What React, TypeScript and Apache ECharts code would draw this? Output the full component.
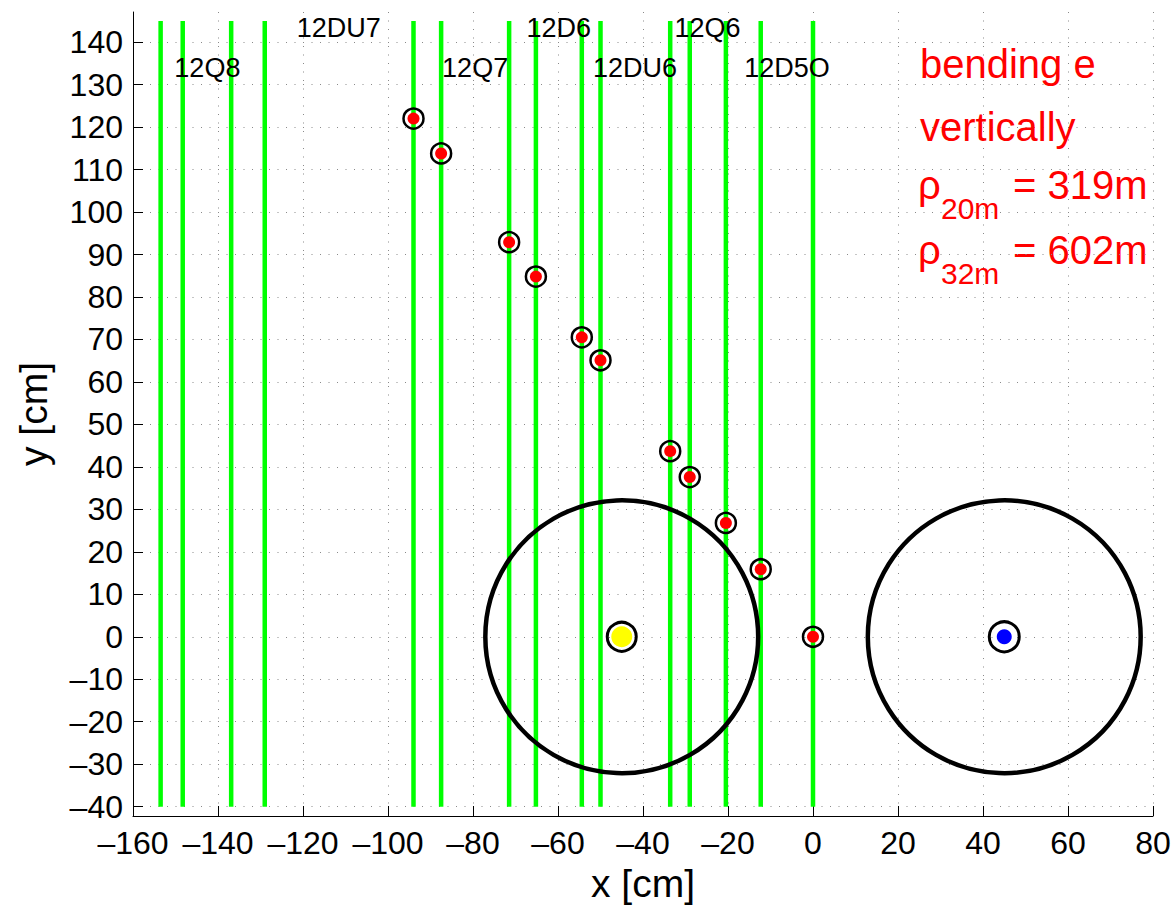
import React, { useEffect, useRef } from "react";
import * as echarts from "echarts";

// ---- data ----
const magnetLineX = [-153.5, -148.3, -136.9, -129.0, -94.0, -87.5, -71.5, -65.2, -54.4, -50.0, -33.6, -29.0, -20.5, -12.3, 0];
const magnetLineYStart = -40;
const magnetLineYEnd = 145;

const magnetNames = ["12Q8", "12DU7", "12Q7", "12D6", "12DU6", "12Q6", "12D5O"];
const magnetLabelX = [-142.5, -111.6, -79.5, -59.8, -41.9, -24.8, -6.1];
const magnetLabelY = [133.8, 143.4, 133.8, 143.4, 133.8, 143.4, 133.8];

const beamX = [-94.0, -87.5, -71.5, -65.2, -54.4, -50.0, -33.6, -29.0, -20.5, -12.3, 0];
const beamY = [122.0, 113.8, 92.9, 84.8, 70.5, 65.1, 43.7, 37.6, 26.8, 15.9, 0];

const apertureCentersX = [-45, 45];
const apertureCentersY = [0, 0];
const apertureRadius = 32.1;

const yellowPoint = [-45, 0];
const bluePoint = [45, 0];

const xTicks = [-160, -140, -120, -100, -80, -60, -40, -20, 0, 20, 40, 60, 80];
const yTicks = [-40, -30, -20, -10, 0, 10, 20, 30, 40, 50, 60, 70, 80, 90, 100, 110, 120, 130, 140];

const noteLines = ["bending e", "vertically"];
const rhoSubs = ["20m", "32m"];
const rhoValues = ["= 319m", "= 602m"];

const FONT = "Liberation Sans, Arial, Helvetica, sans-serif";

const fmt = (v: number) => {
  if (Math.abs(v - Math.round(v / 10) * 10) > 1e-6) return "";
  const r = Math.round(v);
  return r < 0 ? "\u2013" + Math.abs(r) : String(r);
};

export default function App() {
  const ref = useRef<HTMLDivElement>(null);
  useEffect(() => {
    if (!ref.current) return;
    const chart = echarts.init(ref.current, null, { renderer: "svg" });

    const gridLine = { show: true, lineStyle: { color: "#8a8a8a", type: [1, 7.5], width: 1 } };

    const option: any = {
      animation: false,
      backgroundColor: "#ffffff",
      textStyle: { fontFamily: FONT },
      grid: { left: 133, right: 19, top: 12, bottom: 89, containLabel: false, outerBoundsMode: "none" },
      xAxis: {
        type: "value",
        min: xTicks[0],
        max: xTicks[xTicks.length - 1],
        interval: 20,
        name: "x [cm]",
        nameLocation: "middle",
        nameGap: 47,
        nameTextStyle: { fontSize: 39, color: "#000", fontFamily: FONT },
        axisLine: { show: true, onZero: false, lineStyle: { color: "#000", width: 1 } },
        axisTick: { show: true, inside: true, length: 10, lineStyle: { color: "#000" } },
        axisLabel: { fontSize: 32, color: "#000", margin: 11, fontFamily: FONT, formatter: (v: number) => fmt(v) },
        splitLine: gridLine,
      },
      yAxis: {
        type: "value",
        min: -42.2,
        max: 147.1,
        splitNumber: 19,
        name: "y [cm]",
        nameLocation: "middle",
        nameGap: 80,
        nameTextStyle: { fontSize: 39, color: "#000", fontFamily: FONT },
        axisLine: { show: true, onZero: false, lineStyle: { color: "#000", width: 1 } },
        axisTick: { show: true, inside: true, length: 10, lineStyle: { color: "#000" }, customValues: yTicks },
        axisLabel: {
          fontSize: 32,
          color: "#000",
          margin: 10,
          fontFamily: FONT,
          customValues: yTicks,
          showMinLabel: true,
          showMaxLabel: true,
          formatter: (v: number) => fmt(v),
        },
        splitLine: gridLine,
      },
      series: [
        {
          type: "custom",
          name: "magnets",
          z: 1,
          renderItem: (params: any, api: any) => {
            const x = api.value(0);
            const p0 = api.coord([x, api.value(1)]);
            const p1 = api.coord([x, api.value(2)]);
            return {
              type: "line",
              shape: { x1: p0[0], y1: p0[1], x2: p1[0], y2: p1[1] },
              style: { stroke: "#00ff00", lineWidth: 4.5 },
            };
          },
          encode: { x: 0, y: [1, 2] },
          data: magnetLineX.map((x) => [x, magnetLineYStart, magnetLineYEnd]),
        },
        {
          type: "custom",
          name: "apertures",
          z: 2,
          renderItem: (params: any, api: any) => {
            const c = api.coord([api.value(0), api.value(1)]);
            const r = api.size([api.value(2), 0])[0];
            return {
              type: "circle",
              shape: { cx: c[0], cy: c[1], r },
              style: { fill: "none", stroke: "#000", lineWidth: 4.5 },
            };
          },
          encode: { x: 0, y: 1 },
          data: apertureCentersX.map((x, i) => [x, apertureCentersY[i], apertureRadius]),
        },
        {
          type: "scatter",
          name: "rings",
          z: 3,
          symbol: "circle",
          symbolSize: 20,
          itemStyle: { color: "rgba(0,0,0,0)", borderColor: "#000", borderWidth: 2.5, opacity: 1 },
          data: beamX.map((x, i) => [x, beamY[i]]),
        },
        {
          type: "scatter",
          name: "beam",
          z: 4,
          symbol: "circle",
          symbolSize: 12,
          itemStyle: { color: "#ff0000", opacity: 1 },
          data: beamX.map((x, i) => [x, beamY[i]]),
        },
        {
          type: "scatter",
          name: "yellowRing",
          z: 3,
          symbolSize: 29,
          itemStyle: { color: "rgba(0,0,0,0)", borderColor: "#000", borderWidth: 3, opacity: 1 },
          data: [yellowPoint],
        },
        {
          type: "scatter",
          name: "yellow",
          z: 4,
          symbolSize: 21,
          itemStyle: { color: "#ffff00", opacity: 1 },
          data: [yellowPoint],
        },
        {
          type: "scatter",
          name: "blueRing",
          z: 3,
          symbolSize: 30,
          itemStyle: { color: "rgba(0,0,0,0)", borderColor: "#000", borderWidth: 3, opacity: 1 },
          data: [bluePoint],
        },
        {
          type: "scatter",
          name: "blue",
          z: 4,
          symbolSize: 15,
          itemStyle: { color: "#0000ff", opacity: 1 },
          data: [bluePoint],
        },
        {
          type: "scatter",
          name: "labels",
          z: 5,
          symbolSize: 0,
          silent: true,
          itemStyle: { opacity: 1 },
          label: {
            show: true,
            position: "inside",
            formatter: (p: any) => p.name,
            fontSize: 27,
            color: "#000000",
            textBorderWidth: 0,
            fontFamily: FONT,
          },
          data: magnetNames.map((n, i) => ({ name: n, value: [magnetLabelX[i], magnetLabelY[i]] })),
        },
      ],
      graphic: [
        ...noteLines.map((t, i) => ({
          type: "text",
          left: 920,
          top: [50, 113][i] - 6,
          style: { text: t, fill: "#ff0000", fontSize: 40, fontFamily: FONT },
          z: 10,
        })),
        ...rhoSubs.map((s, i) => ({
          type: "group",
          z: 10,
          children: [
            {
              type: "text",
              x: 918,
              y: [185, 250][i],
              style: { text: "\u03c1", fill: "#ff0000", fontSize: 40, fontFamily: FONT, verticalAlign: "middle", align: "left" },
            },
            {
              type: "text",
              x: 941,
              y: [208, 273][i],
              style: { text: s, fill: "#ff0000", fontSize: 30, fontFamily: FONT, verticalAlign: "middle", align: "left" },
            },
            {
              type: "text",
              x: 1013,
              y: [185, 250][i],
              style: { text: rhoValues[i], fill: "#ff0000", fontSize: 40, fontFamily: FONT, verticalAlign: "middle", align: "left" },
            },
          ],
        })),
      ],
    };

    chart.setOption(option);
    return () => chart.dispose();
  }, []);

  return (
    <div
      ref={ref}
      style={{ position: "absolute", left: 0, top: 0, width: 1172, height: 905, background: "#fff" }}
    />
  );
}
